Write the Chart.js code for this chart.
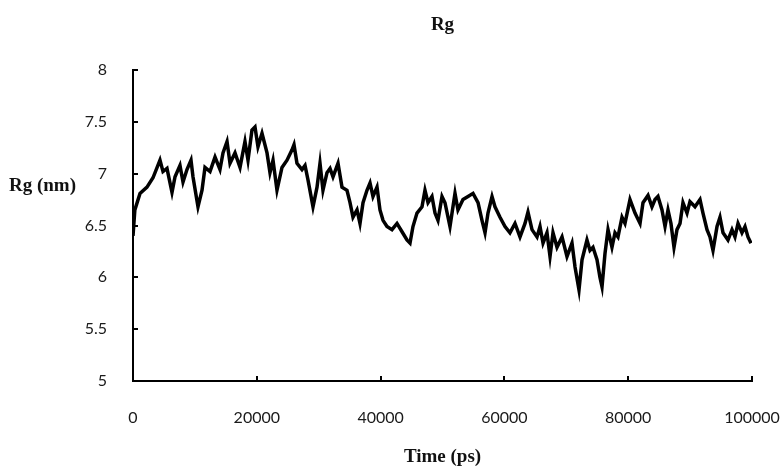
<!DOCTYPE html>
<html>
<head>
<meta charset="utf-8">
<script src="https://cdn.jsdelivr.net/npm/chart.js@4.4.1/dist/chart.umd.min.js"></script>
<style>
  html, body { margin: 0; padding: 0; background: #fff; }
  #wrap { width: 781px; height: 466px; position: relative; }
</style>
</head>
<body>
<div id="wrap"><canvas id="c" width="781" height="466"></canvas></div>
<script>
// Time (ps) and Rg (nm)
const timePs = [0, 300, 1130, 2260, 3230, 4360, 4850, 5490, 6300, 6790, 7590, 8080, 8720, 9370, 9690,
  10500, 11150, 11630, 12440, 13250, 14050, 14540, 15190, 15670, 16480, 17290, 18090, 18580, 19220, 19710,
  20190, 20840, 21650, 22130, 22620, 23260, 24070, 24880, 25690, 26010, 26490, 27300, 27790, 28270, 29080,
  29730, 30210, 30690, 31340, 31830, 32310, 33120, 33760, 34570, 35060, 35540, 36190, 36670, 37160, 37800,
  38290, 38770, 39420, 39900, 40390, 41030, 41840, 42650, 43460, 44260, 44750, 45230, 45880, 46690, 47170,
  47660, 48300, 48790, 49270, 49920, 50400, 51210, 52020, 52500, 53310, 54120, 54930, 55740, 56380, 56870,
  57350, 58000, 58480, 59290, 60100, 60900, 61710, 62520, 63330, 63810, 64460, 65270, 65750, 66240, 66880,
  67370, 67850, 68500, 69310, 70110, 70920, 71410, 72050, 72540, 73340, 73830, 74310, 74960, 75440, 75770,
  76250, 76740, 77380, 77870, 78350, 79000, 79480, 80290, 81100, 81910, 82390, 83200, 83840, 84330, 84810,
  85460, 85950, 86430, 86910, 87400, 87880, 88370, 88850, 89500, 89980, 90790, 91600, 92080, 92730, 93210,
  93700, 94350, 94830, 95320, 96120, 96770, 97250, 97740, 98380, 98870, 99350, 99840];
const rgNm = [6.40, 6.65, 6.81, 6.87, 6.96, 7.13, 7.02, 7.05, 6.82, 6.97, 7.08, 6.92, 7.04, 7.13, 6.97,
  6.68, 6.84, 7.06, 7.02, 7.16, 7.04, 7.20, 7.31, 7.10, 7.20, 7.06, 7.31, 7.13, 7.42, 7.45,
  7.26, 7.39, 7.20, 7.01, 7.13, 6.84, 7.06, 7.13, 7.23, 7.28, 7.10, 7.04, 7.08, 6.94, 6.68,
  6.87, 7.10, 6.84, 7.01, 7.05, 6.97, 7.10, 6.87, 6.84, 6.72, 6.58, 6.65, 6.52, 6.72, 6.84,
  6.91, 6.78, 6.87, 6.65, 6.55, 6.49, 6.46, 6.52, 6.44, 6.36, 6.33, 6.49, 6.62, 6.68, 6.84,
  6.72, 6.78, 6.62, 6.55, 6.78, 6.72, 6.49, 6.81, 6.65, 6.75, 6.78, 6.81, 6.72, 6.55, 6.43,
  6.62, 6.78, 6.68, 6.58, 6.49, 6.43, 6.52, 6.39, 6.52, 6.63, 6.46, 6.39, 6.49, 6.33, 6.43,
  6.20, 6.43, 6.29, 6.39, 6.20, 6.33, 6.10, 5.88, 6.17, 6.36, 6.26, 6.29, 6.17, 6.00, 5.91,
  6.23, 6.46, 6.29, 6.43, 6.39, 6.58, 6.52, 6.75, 6.62, 6.52, 6.72, 6.79, 6.68, 6.75, 6.78,
  6.65, 6.49, 6.65, 6.52, 6.29, 6.46, 6.52, 6.72, 6.62, 6.73, 6.68, 6.75, 6.62, 6.46, 6.39,
  6.26, 6.49, 6.58, 6.43, 6.36, 6.46, 6.39, 6.52, 6.43, 6.49, 6.39, 6.33];
const xTickValues = [0, 20000, 40000, 60000, 80000, 100000];
const yTickValues = [5, 5.5, 6, 6.5, 7, 7.5, 8];
const titleText = 'Rg';
const yTitleText = 'Rg (nm)';
const xTitleText = 'Time (ps)';

const points = timePs.map((t, i) => ({ x: t, y: rgNm[i] }));

const decor = {
  id: 'decor',
  afterDraw(chart) {
    const ctx = chart.ctx;
    const xs = chart.scales.x, ys = chart.scales.y;
    const area = chart.chartArea;
    ctx.save();
    ctx.strokeStyle = '#000';
    ctx.lineWidth = 2;
    // inward tick marks
    yTickValues.forEach(v => {
      const py = Math.round(ys.getPixelForValue(v));
      ctx.beginPath(); ctx.moveTo(area.left, py); ctx.lineTo(area.left + 5, py); ctx.stroke();
    });
    xTickValues.forEach(v => {
      const px = Math.round(xs.getPixelForValue(v));
      ctx.beginPath(); ctx.moveTo(px, area.bottom); ctx.lineTo(px, area.bottom - 5); ctx.stroke();
    });
    // titles
    ctx.fillStyle = '#111';
    ctx.font = 'bold 19px "Liberation Serif", "Times New Roman", serif';
    ctx.textAlign = 'center';
    ctx.textBaseline = 'alphabetic';
    ctx.fillText(titleText, (area.left + area.right) / 2, 30);
    ctx.fillText(xTitleText, (area.left + area.right) / 2, 462);
    ctx.textAlign = 'left';
    ctx.textBaseline = 'middle';
    ctx.fillText(yTitleText, 9, 186);
    ctx.restore();
  }
};

new Chart(document.getElementById('c'), {
  type: 'line',
  data: {
    datasets: [{
      data: points,
      borderColor: '#000',
      borderWidth: 3.5,
      pointRadius: 0,
      tension: 0,
      fill: false
    }]
  },
  options: {
    responsive: false,
    animation: false,
    layout: { padding: { left: 0, right: 29, top: 70, bottom: 0 } },
    plugins: { legend: { display: false }, tooltip: { enabled: false }, title: { display: false } },
    scales: {
      x: {
        type: 'linear',
        min: 0, max: 100000,
        afterFit: s => { s.height = 85; s.paddingLeft = 0; s.paddingRight = 0; },
        afterBuildTicks: s => { s.ticks = xTickValues.map(v => ({ value: v })); },
        grid: { display: false },
        border: { display: true, color: '#000', width: 2 },
        ticks: {
          padding: 19,
          color: '#1a1a1a',
          font: { family: 'Lato', size: 16 },
          maxRotation: 0,
          callback: v => String(v)
        }
      },
      y: {
        min: 5, max: 8,
        afterFit: s => { s.width = 133; s.paddingTop = 0; s.paddingBottom = 0; },
        afterBuildTicks: s => { s.ticks = yTickValues.map(v => ({ value: v })); },
        grid: { display: false },
        border: { display: true, color: '#000', width: 2 },
        ticks: {
          padding: 18,
          color: '#1a1a1a',
          font: { family: 'Lato', size: 16 },
          callback: v => String(v)
        }
      }
    }
  },
  plugins: [decor]
});
</script>
</body>
</html>
